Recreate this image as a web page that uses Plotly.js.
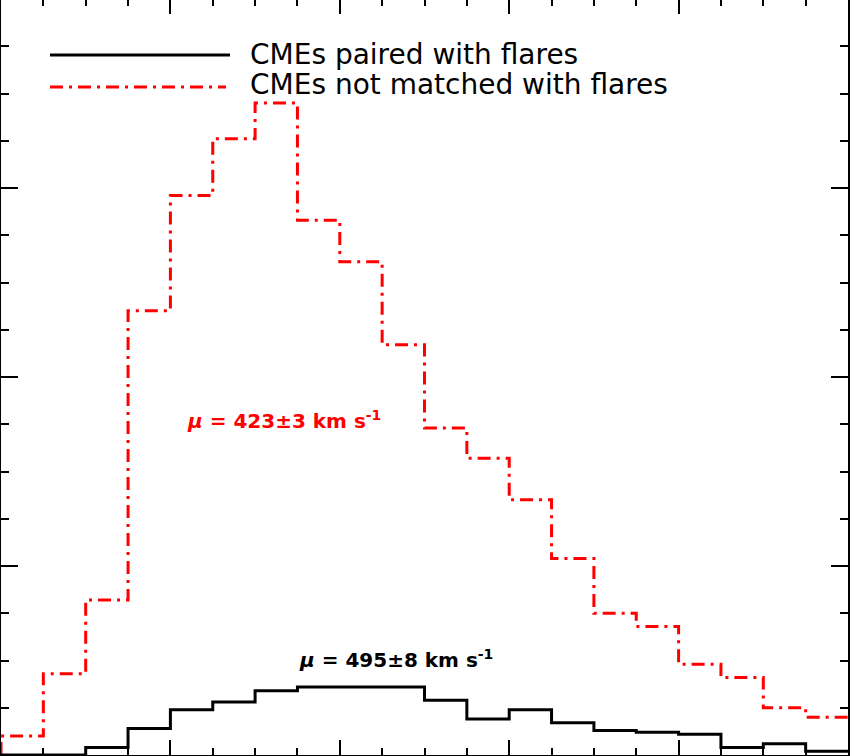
<!DOCTYPE html>
<html>
<head>
<meta charset="utf-8">
<script src="https://cdn.plot.ly/plotly-3.0.1.min.js"></script>
<style>
  html, body { margin: 0; padding: 0; background: #fff; overflow: hidden; }
  #plot { position: absolute; left: 0; top: -2px; width: 850px; height: 758px; }
</style>
</head>
<body>
<div id="plot"></div>
<script>
// left edges of the speed bins (km/s), 50 km/s wide
const speedBins = [0, 50, 100, 150, 200, 250, 300, 350, 400, 450,
                   500, 550, 600, 650, 700, 750, 800, 850, 900, 950];
const binWidth = 50;
// CMEs paired with flares
const pairedCounts = [0, 0, 4, 14, 24, 28, 34, 36, 36, 36,
                      29, 19, 24, 17, 13, 12, 11, 4, 6, 2];
// CMEs not matched with flares
const unmatchedCounts = [10, 43, 82, 235, 296, 326, 345, 283, 261, 217,
                         173, 157, 135, 104, 75, 68, 48, 41, 25, 20];
const legendNames = ['CMEs paired with flares', 'CMEs not matched with flares'];
const meanLabels = ['495±8', '423±3'];

// turn bin counts into a closed step outline
function steps(counts) {
    const last = speedBins.length - 1;
    return {
        x: [speedBins[0], ...speedBins, speedBins[last] + binWidth],
        y: [0, ...counts, counts[last]],
    };
}

const red = '#ff0000';
const paired = steps(pairedCounts);
const unmatched = steps(unmatchedCounts);

const data = [{
    x: unmatched.x,
    y: unmatched.y,
    name: legendNames[1],
    mode: 'lines',
    line: { shape: 'hv', color: red, width: 3, dash: '13px,6px,3px,6px' },
}, {
    x: paired.x,
    y: paired.y,
    name: legendNames[0],
    mode: 'lines',
    line: { shape: 'hv', color: '#000', width: 3 },
}];

// pixel helpers for the hand drawn legend (plot area: x 1..848, y -1..755)
const px = v => (v - 1) / 847;
const py = v => (755 - v) / 756;

const axisCommon = {
    showline: true,
    linecolor: '#000',
    linewidth: 2,
    mirror: 'allticks',
    ticks: 'inside',
    tickcolor: '#000',
    tickwidth: 2,
    showticklabels: false,
    showgrid: false,
    zeroline: false,
};

const layout = {
    width: 850,
    height: 758,
    margin: { t: 1, l: 1, r: 2, b: 1 },
    paper_bgcolor: '#fff',
    plot_bgcolor: '#fff',
    showlegend: false,
    xaxis: Object.assign({}, axisCommon, {
        range: [0, 1000],
        tick0: 0,
        dtick: 200,
        ticklen: 15,
        minor: { dtick: 50, ticks: 'inside', ticklen: 7, tickwidth: 2, tickcolor: '#000', showgrid: false },
    }),
    yaxis: Object.assign({}, axisCommon, {
        range: [0, 400],
        tick0: 0,
        dtick: 100,
        ticklen: 17,
        minor: { dtick: 25, ticks: 'inside', ticklen: 8, tickwidth: 2, tickcolor: '#000', showgrid: false },
    }),
    shapes: [
        { type: 'line', xref: 'paper', yref: 'paper', x0: px(50), x1: px(230), y0: py(55), y1: py(55),
          line: { color: '#000', width: 3 } },
        { type: 'line', xref: 'paper', yref: 'paper', x0: px(50), x1: px(226), y0: py(87), y1: py(87),
          line: { color: red, width: 3, dash: '13px,6px,3px,6px' } },
    ],
    annotations: [
        { xref: 'paper', yref: 'paper', x: px(248), y: py(54), xanchor: 'left', yanchor: 'middle',
          text: legendNames[0], showarrow: false,
          font: { family: 'DejaVu Sans', size: 28, color: '#000' } },
        { xref: 'paper', yref: 'paper', x: px(248), y: py(85), xanchor: 'left', yanchor: 'middle',
          text: legendNames[1], showarrow: false,
          font: { family: 'DejaVu Sans', size: 28, color: '#000' } },
        { x: 334, y: 177, xanchor: 'center', yanchor: 'middle', showarrow: false,
          text: '<b><i>μ</i> = ' + meanLabels[1] + ' km s<sup>-1</sup></b>',
          font: { family: 'DejaVu Sans', size: 20, color: red } },
        { x: 466, y: 51, xanchor: 'center', yanchor: 'middle', showarrow: false,
          text: '<b><i>μ</i> = ' + meanLabels[0] + ' km s<sup>-1</sup></b>',
          font: { family: 'DejaVu Sans', size: 20, color: '#000' } },
    ],
};

Plotly.newPlot('plot', data, layout, { displayModeBar: false, staticPlot: true });
</script>
</body>
</html>
